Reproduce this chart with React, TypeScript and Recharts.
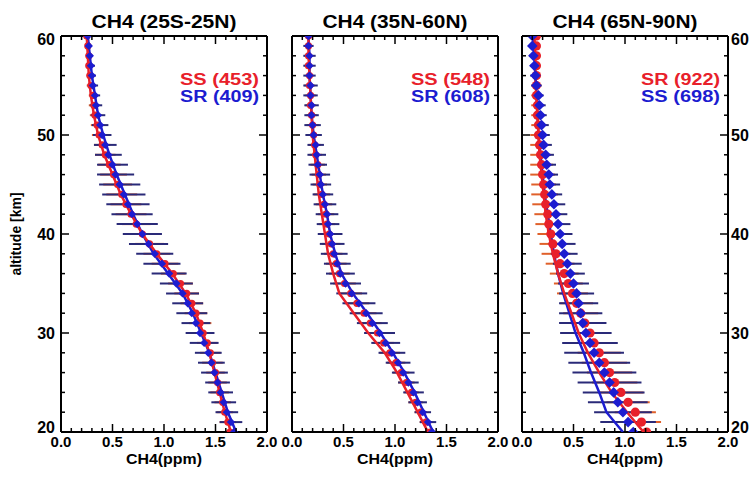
import { ScatterChart, Scatter, XAxis, YAxis, ErrorBar } from 'recharts';

// altitude grid [km]
const ALT = [20, 21, 22, 23, 24, 25, 26, 27, 28, 29, 30, 31, 32, 33, 34, 35, 36, 37, 38, 39, 40,
  41, 42, 43, 44, 45, 46, 47, 48, 49, 50, 51, 52, 53, 54, 55, 56, 57, 58, 59, 60];
const LINE_ALT = [20, 22, 24, 26, 28, 30, 32, 34, 36, 38, 40, 42, 44, 46, 48, 50, 52, 54, 56, 58, 60];

const X_TICKS = [0, 0.1, 0.2, 0.3, 0.4, 0.5, 0.6, 0.7, 0.8, 0.9, 1.0, 1.1, 1.2, 1.3, 1.4, 1.5, 1.6, 1.7, 1.8, 1.9, 2.0];
const Y_TICKS = [20, 22, 24, 26, 28, 30, 32, 34, 36, 38, 40, 42, 44, 46, 48, 50, 52, 54, 56, 58, 60];

// 25S-25N
const P1_RED_MARK = [1.64, 1.62, 1.59, 1.57, 1.54, 1.52, 1.50, 1.47, 1.45, 1.42, 1.38, 1.35, 1.31, 1.27, 1.22, 1.16, 1.09, 1.01, 0.93, 0.86, 0.79,
  0.73, 0.68, 0.63, 0.59, 0.55, 0.51, 0.47, 0.43, 0.40, 0.37, 0.35, 0.33, 0.32, 0.31, 0.29, 0.28, 0.27, 0.27, 0.26, 0.25];
const P1_BLUE_MARK = [1.68, 1.65, 1.61, 1.58, 1.55, 1.52, 1.49, 1.46, 1.43, 1.39, 1.35, 1.31, 1.27, 1.23, 1.18, 1.12, 1.05, 0.98, 0.91, 0.85, 0.79,
  0.74, 0.69, 0.65, 0.61, 0.57, 0.53, 0.50, 0.46, 0.43, 0.40, 0.38, 0.36, 0.34, 0.33, 0.31, 0.30, 0.29, 0.28, 0.27, 0.26];
const P1_RED_ERR = [0.07, 0.08, 0.08, 0.08, 0.09, 0.09, 0.09, 0.10, 0.10, 0.10, 0.10, 0.11, 0.11, 0.11, 0.12, 0.12, 0.12, 0.13, 0.13, 0.14, 0.14,
  0.14, 0.15, 0.15, 0.15, 0.14, 0.13, 0.11, 0.10, 0.08, 0.07, 0.06, 0.05, 0.05, 0.04, 0.04, 0.03, 0.03, 0.03, 0.02, 0.02];
const P1_BLUE_ERR = [0.10, 0.11, 0.11, 0.12, 0.12, 0.12, 0.13, 0.13, 0.13, 0.14, 0.14, 0.14, 0.15, 0.15, 0.16, 0.16, 0.17, 0.18, 0.18, 0.19, 0.19,
  0.20, 0.20, 0.21, 0.21, 0.20, 0.18, 0.15, 0.13, 0.11, 0.09, 0.08, 0.07, 0.06, 0.05, 0.05, 0.04, 0.04, 0.03, 0.03, 0.03];
const P1_RED_LINE = [1.65, 1.59, 1.54, 1.49, 1.44, 1.38, 1.31, 1.21, 1.08, 0.93, 0.79, 0.68, 0.58, 0.50, 0.42, 0.36, 0.32, 0.29, 0.27, 0.26, 0.25];
const P1_BLUE_LINE = [1.70, 1.62, 1.56, 1.50, 1.44, 1.36, 1.28, 1.18, 1.04, 0.90, 0.79, 0.70, 0.62, 0.54, 0.47, 0.41, 0.36, 0.33, 0.30, 0.28, 0.26];

// 35N-60N
const P2_RED_MARK = [1.34, 1.30, 1.25, 1.20, 1.16, 1.11, 1.06, 1.01, 0.95, 0.89, 0.83, 0.76, 0.70, 0.63, 0.57, 0.51, 0.46, 0.43, 0.40, 0.38, 0.36,
  0.34, 0.33, 0.31, 0.29, 0.27, 0.26, 0.25, 0.23, 0.22, 0.21, 0.20, 0.19, 0.18, 0.18, 0.17, 0.17, 0.16, 0.16, 0.16, 0.16];
const P2_BLUE_MARK = [1.36, 1.32, 1.27, 1.22, 1.18, 1.13, 1.08, 1.03, 0.97, 0.91, 0.85, 0.78, 0.72, 0.65, 0.58, 0.52, 0.47, 0.44, 0.41, 0.39, 0.37,
  0.35, 0.34, 0.32, 0.30, 0.28, 0.27, 0.25, 0.24, 0.23, 0.21, 0.20, 0.19, 0.19, 0.18, 0.18, 0.17, 0.17, 0.17, 0.16, 0.16];
const P2_RED_ERR = [0.05, 0.06, 0.06, 0.07, 0.07, 0.08, 0.08, 0.09, 0.10, 0.10, 0.11, 0.11, 0.12, 0.12, 0.11, 0.11, 0.10, 0.10, 0.09, 0.09, 0.09,
  0.08, 0.08, 0.08, 0.08, 0.07, 0.07, 0.07, 0.06, 0.06, 0.06, 0.06, 0.05, 0.05, 0.05, 0.05, 0.04, 0.04, 0.04, 0.04, 0.04];
const P2_BLUE_ERR = [0.07, 0.08, 0.08, 0.09, 0.10, 0.10, 0.11, 0.12, 0.13, 0.14, 0.15, 0.15, 0.16, 0.16, 0.15, 0.15, 0.14, 0.13, 0.13, 0.12, 0.12,
  0.11, 0.11, 0.11, 0.10, 0.10, 0.10, 0.09, 0.09, 0.08, 0.08, 0.08, 0.07, 0.07, 0.07, 0.07, 0.06, 0.06, 0.06, 0.05, 0.05];
const P2_RED_LINE = [1.32, 1.22, 1.12, 1.02, 0.90, 0.74, 0.60, 0.46, 0.40, 0.35, 0.32, 0.29, 0.26, 0.24, 0.22, 0.20, 0.19, 0.18, 0.17, 0.16, 0.16];
const P2_BLUE_LINE = [1.37, 1.28, 1.19, 1.09, 0.98, 0.86, 0.73, 0.59, 0.48, 0.42, 0.37, 0.34, 0.30, 0.27, 0.24, 0.21, 0.19, 0.18, 0.17, 0.17, 0.16];

// 65N-90N
const P3_RED_MARK = [1.21, 1.16, 1.10, 1.03, 0.96, 0.90, 0.85, 0.80, 0.75, 0.70, 0.66, 0.61, 0.57, 0.53, 0.49, 0.45, 0.41, 0.37, 0.33, 0.30, 0.28,
  0.26, 0.25, 0.23, 0.22, 0.21, 0.20, 0.19, 0.18, 0.17, 0.16, 0.16, 0.15, 0.15, 0.14, 0.14, 0.14, 0.14, 0.14, 0.14, 0.14];
const P3_BLUE_MARK = [1.08, 1.03, 0.98, 0.93, 0.89, 0.85, 0.80, 0.75, 0.70, 0.66, 0.62, 0.59, 0.57, 0.55, 0.53, 0.50, 0.47, 0.44, 0.41, 0.39, 0.37,
  0.35, 0.33, 0.31, 0.29, 0.27, 0.26, 0.24, 0.23, 0.21, 0.20, 0.19, 0.18, 0.17, 0.16, 0.14, 0.13, 0.12, 0.11, 0.10, 0.10];
const P3_RED_ERR = [0.18, 0.19, 0.20, 0.21, 0.22, 0.22, 0.22, 0.22, 0.21, 0.20, 0.19, 0.18, 0.17, 0.16, 0.15, 0.14, 0.14, 0.14, 0.14, 0.13, 0.13,
  0.13, 0.13, 0.13, 0.13, 0.12, 0.12, 0.11, 0.10, 0.09, 0.08, 0.07, 0.06, 0.06, 0.05, 0.05, 0.04, 0.04, 0.04, 0.03, 0.03];
const P3_BLUE_ERR = [0.26, 0.27, 0.28, 0.29, 0.30, 0.31, 0.31, 0.30, 0.29, 0.27, 0.25, 0.23, 0.21, 0.19, 0.17, 0.15, 0.14, 0.14, 0.13, 0.13, 0.12,
  0.12, 0.11, 0.11, 0.10, 0.10, 0.09, 0.09, 0.08, 0.08, 0.07, 0.07, 0.06, 0.06, 0.05, 0.05, 0.05, 0.04, 0.04, 0.04, 0.04];
const P3_RED_LINE = [1.18, 1.02, 0.87, 0.75, 0.64, 0.55, 0.48, 0.41, 0.35, 0.30, 0.26, 0.23, 0.21, 0.19, 0.17, 0.16, 0.15, 0.14, 0.13, 0.13, 0.12];
const P3_BLUE_LINE = [0.98, 0.82, 0.75, 0.67, 0.60, 0.52, 0.46, 0.40, 0.35, 0.31, 0.28, 0.25, 0.22, 0.20, 0.18, 0.16, 0.15, 0.14, 0.13, 0.12, 0.11];

const RED = '#e8202a';
const BLUE = '#1c1cd0';
const NAVY = '#2a2a78';
const ORANGE = '#e0602a';
const FONT = '"Liberation Sans", Arial, Helvetica, sans-serif';

const W = 753;
const H = 477;
const TOP = 36;
const BOTTOM = 432;
const AX = 1; // thickness reserved for each axis

const panels = [
  { title: 'CH4 (25S-25N)', left: 61, right: 267, legend: [['SS (453)', RED], ['SR (409)', BLUE]], yLabels: 'left', mk: 3.6,
    redMark: P1_RED_MARK, blueMark: P1_BLUE_MARK, redErr: P1_RED_ERR, blueErr: P1_BLUE_ERR, redLine: P1_RED_LINE, blueLine: P1_BLUE_LINE },
  { title: 'CH4 (35N-60N)', left: 292, right: 498, legend: [['SS (548)', RED], ['SR (608)', BLUE]], yLabels: 'none', mk: 3.6,
    redMark: P2_RED_MARK, blueMark: P2_BLUE_MARK, redErr: P2_RED_ERR, blueErr: P2_BLUE_ERR, redLine: P2_RED_LINE, blueLine: P2_BLUE_LINE },
  { title: 'CH4 (65N-90N)', left: 522, right: 728, legend: [['SR (922)', RED], ['SS (698)', BLUE]], yLabels: 'right', mk: 4.6,
    redMark: P3_RED_MARK, blueMark: P3_BLUE_MARK, redErr: P3_RED_ERR, blueErr: P3_BLUE_ERR, redLine: P3_RED_LINE, blueLine: P3_BLUE_LINE },
];

const isMajorX = (v: number) => Math.abs(v * 2 - Math.round(v * 2)) < 1e-6;
const isMajorY = (v: number) => v % 10 === 0;

function makeTick(side: string, showLabel: boolean) {
  return (props: any) => {
    const { x, y, payload } = props;
    const v = payload.value as number;
    const major = side === 'bottom' || side === 'top' ? isMajorX(v) : isMajorY(v);
    const len = major ? 8 : 4;
    const common = { stroke: '#000', strokeWidth: 1.5 };
    if (side === 'bottom') {
      return (
        <g>
          <line x1={x} y1={y} x2={x} y2={y - len} {...common} />
          {showLabel && major && (
            <text x={x} y={y + 15} textAnchor="middle" fontFamily={FONT} fontWeight="bold" fontSize={15} fill="#000">
              {v.toFixed(1)}
            </text>
          )}
        </g>
      );
    }
    if (side === 'top') {
      return <line x1={x} y1={y} x2={x} y2={y + len} {...common} />;
    }
    const dy = v === 60 ? 9 : v === 20 ? 1 : 6;
    if (side === 'left') {
      return (
        <g>
          <line x1={x} y1={y} x2={x + len} y2={y} {...common} />
          {showLabel && major && (
            <text x={x - 6} y={y + dy} textAnchor="end" fontFamily={FONT} fontWeight="bold" fontSize={16} fill="#000">
              {v}
            </text>
          )}
        </g>
      );
    }
    return (
      <g>
        <line x1={x} y1={y} x2={x - len} y2={y} {...common} />
        {showLabel && major && (
          <text x={x + 3} y={y + dy} textAnchor="start" fontFamily={FONT} fontWeight="bold" fontSize={16} fill="#000">
            {v}
          </text>
        )}
      </g>
    );
  };
}

const Empty = () => <g />;

const makeCircle = (r: number) => (props: any) => <circle cx={props.cx} cy={props.cy} r={r} fill={RED} />;
const makeDiamond = (r: number) => (props: any) => {
  const { cx, cy } = props;
  const d = r * 1.15;
  return <polygon points={`${cx},${cy - d} ${cx + d},${cy} ${cx},${cy + d} ${cx - d},${cy}`} fill={BLUE} />;
};

function Panel({ p }: { p: (typeof panels)[number] }) {
  const redPts = ALT.map((y, i) => ({ x: p.redMark[i], y, err: p.redErr[i] }));
  const bluePts = ALT.map((y, i) => ({ x: p.blueMark[i], y, err: p.blueErr[i] }));
  const redLine = LINE_ALT.map((y, i) => ({ x: p.redLine[i], y }));
  const blueLine = LINE_ALT.map((y, i) => ({ x: p.blueLine[i], y }));
  const axisLine = { stroke: '#000', strokeWidth: 2 };
  return (
    <div style={{ position: 'absolute', left: 0, top: 0 }}>
      <ScatterChart width={W} height={H}
        margin={{ top: TOP - AX, bottom: H - BOTTOM - AX, left: p.left - AX, right: W - p.right - AX }}>
        <XAxis xAxisId={0} type="number" dataKey="x" domain={[0, 2]} allowDataOverflow ticks={X_TICKS} height={AX}
          tickSize={0} tickMargin={0} tickLine={false} axisLine={axisLine} tick={makeTick('bottom', true)} interval={0} />
        <XAxis xAxisId="top" orientation="top" type="number" dataKey="x" domain={[0, 2]} allowDataOverflow ticks={X_TICKS} height={AX}
          tickSize={0} tickMargin={0} tickLine={false} axisLine={axisLine} tick={makeTick('top', false)} interval={0} />
        <YAxis yAxisId={0} type="number" dataKey="y" domain={[20, 60]} allowDataOverflow ticks={Y_TICKS} width={AX}
          tickSize={0} tickMargin={0} tickLine={false} axisLine={axisLine} tick={makeTick('left', p.yLabels === 'left')} interval={0} />
        <YAxis yAxisId="right" orientation="right" type="number" dataKey="y" domain={[20, 60]} allowDataOverflow ticks={Y_TICKS} width={AX}
          tickSize={0} tickMargin={0} tickLine={false} axisLine={axisLine} tick={makeTick('right', p.yLabels === 'right')} interval={0} />

        <Scatter data={redPts} shape={Empty} isAnimationActive={false}>
          <ErrorBar dataKey="err" direction="x" width={0} stroke={ORANGE} strokeWidth={2} />
        </Scatter>
        <Scatter data={bluePts} shape={Empty} isAnimationActive={false}>
          <ErrorBar dataKey="err" direction="x" width={0} stroke={NAVY} strokeWidth={2} />
        </Scatter>
        <Scatter data={blueLine} shape={Empty} line={{ stroke: BLUE, strokeWidth: 2.5 }} isAnimationActive={false} />
        <Scatter data={redLine} shape={Empty} line={{ stroke: RED, strokeWidth: 2.5 }} isAnimationActive={false} />
        <Scatter data={redPts} shape={makeCircle(p.mk)} isAnimationActive={false} />
        <Scatter data={bluePts} shape={makeDiamond(p.mk)} isAnimationActive={false} />
      </ScatterChart>
    </div>
  );
}

export default function App() {
  return (
    <div style={{ position: 'absolute', left: 0, top: 0, width: W, height: H, background: '#fff' }}>
      {panels.map((p) => (
        <Panel key={p.title} p={p} />
      ))}
      <svg width={W} height={H} style={{ position: 'absolute', left: 0, top: 0, pointerEvents: 'none' }}>
        {panels.map((p) => {
          const cx = (p.left + p.right) / 2;
          return (
            <g key={p.title}>
              <text x={cx} y={28} textAnchor="middle" fontFamily={FONT} fontWeight="bold" fontSize={18} fill="#000"
                textLength={145} lengthAdjust="spacingAndGlyphs">
                {p.title}
              </text>
              {p.legend.map(([label, color], i) => (
                <text key={label} x={p.right - 8} y={85 + i * 17} textAnchor="end" fontFamily={FONT} fontWeight="bold"
                  fontSize={16} fill={color} textLength={79} lengthAdjust="spacingAndGlyphs">
                  {label}
                </text>
              ))}
              <text x={cx} y={464} textAnchor="middle" fontFamily={FONT} fontWeight="bold" fontSize={14} fill="#000"
                textLength={76} lengthAdjust="spacingAndGlyphs">
                CH4(ppm)
              </text>
            </g>
          );
        })}
        <text transform="translate(21,234) rotate(-90)" textAnchor="middle" fontFamily={FONT} fontWeight="bold" fontSize={14} fill="#000">
          altitude [km]
        </text>
      </svg>
    </div>
  );
}
